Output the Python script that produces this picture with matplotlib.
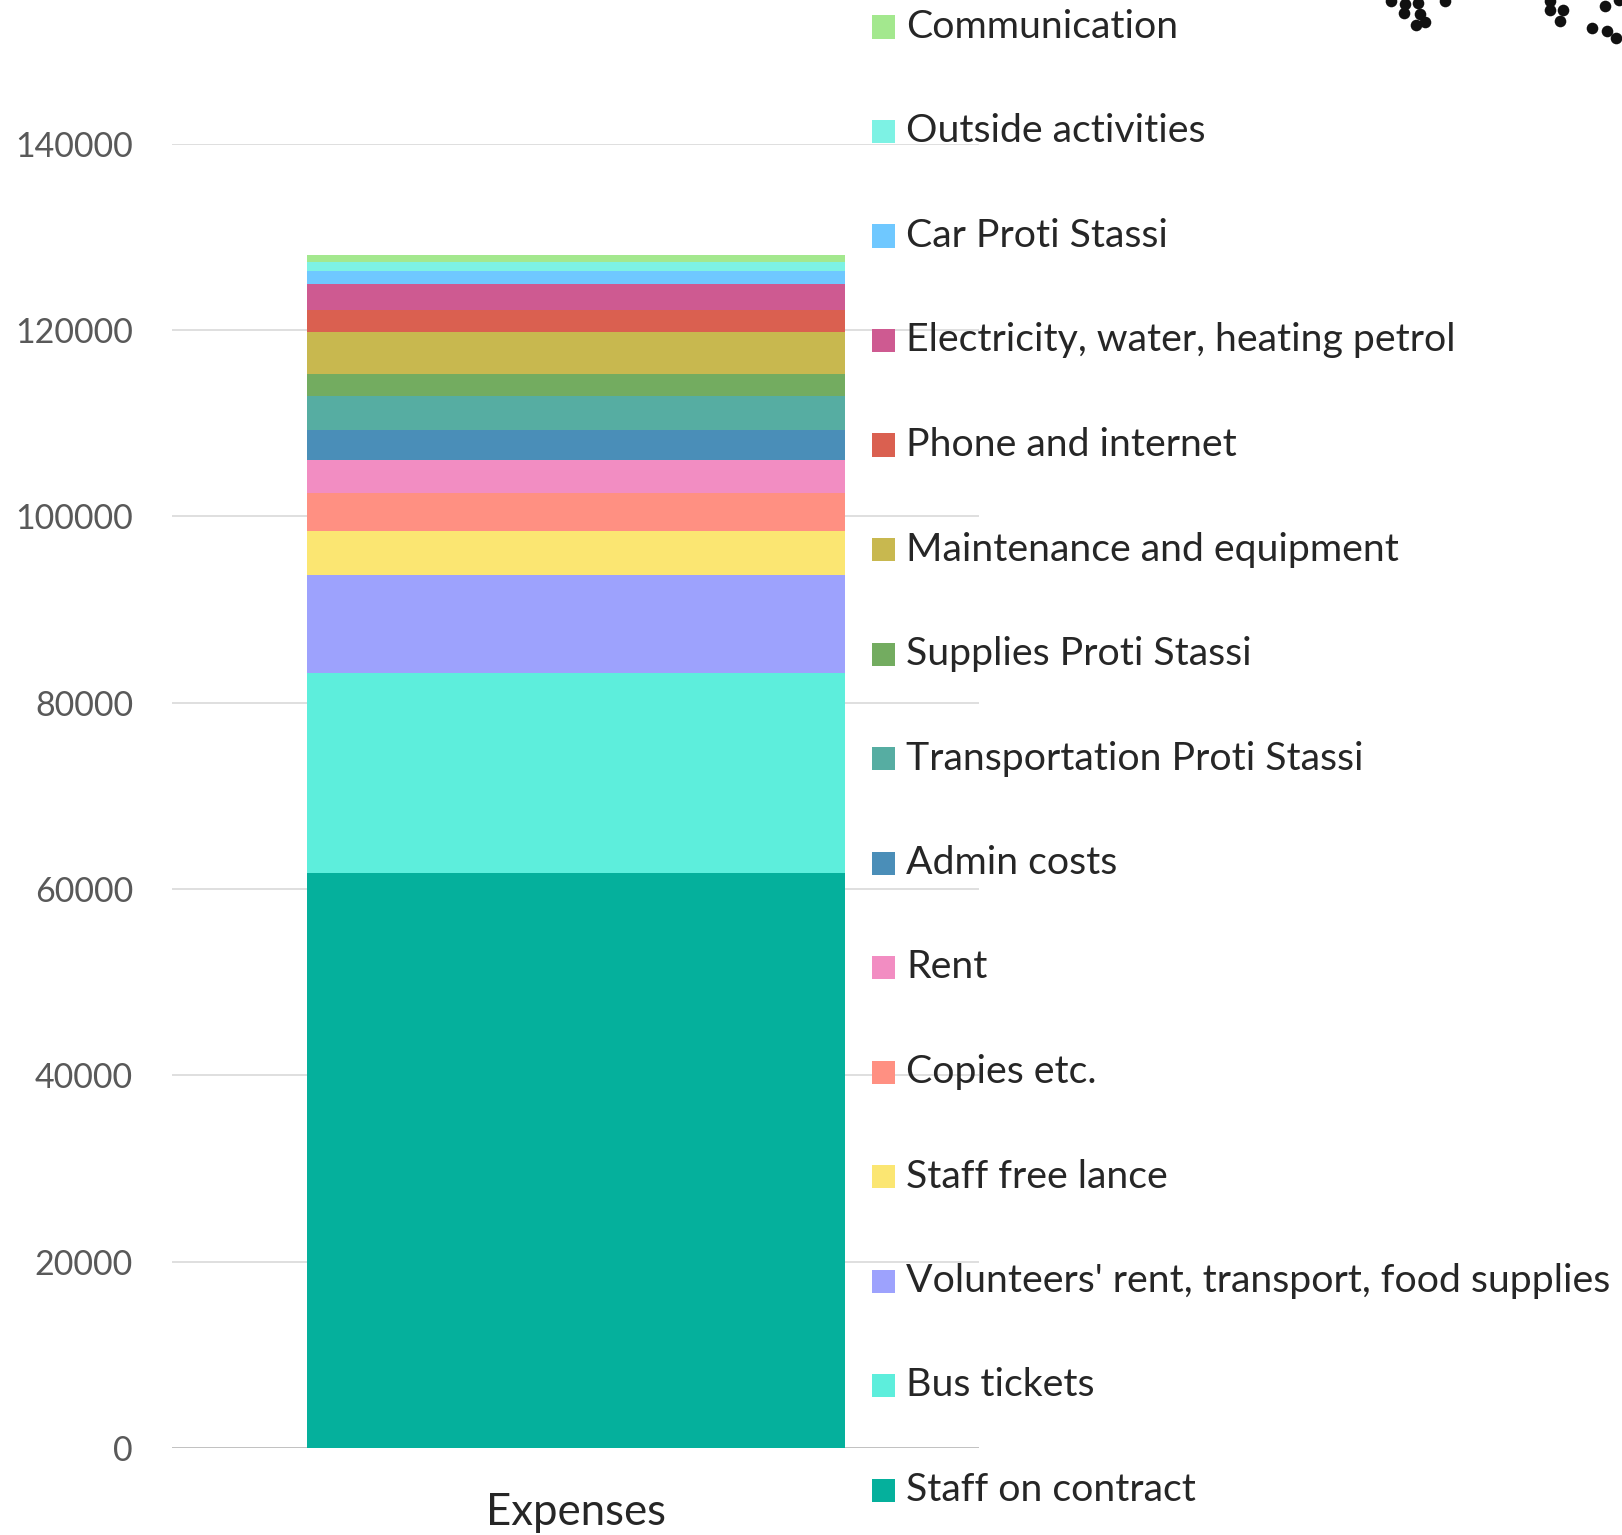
import matplotlib
matplotlib.use("Agg")
import matplotlib.pyplot as plt
from matplotlib.patches import Rectangle

categories = ["Staff on contract", "Bus tickets", "Volunteers' rent, transport, food supplies",
              "Staff free lance", "Copies etc.", "Rent", "Admin costs",
              "Transportation Proti Stassi", "Supplies Proti Stassi", "Maintenance and equipment",
              "Phone and internet", "Electricity, water, heating petrol", "Car Proti Stassi",
              "Outside activities", "Communication"]
values = [61700, 21500, 10500, 4720, 4080, 3540, 3220, 3620, 2390, 4580, 2360, 2720, 1400, 930, 780]
colors = ["#05B09C", "#5DEEDC", "#9DA2FD", "#FBE672", "#FF9082", "#F28DC2", "#4A8EB8",
          "#56ADA2", "#73AC60", "#C8B84F", "#DA6050", "#CE5A91", "#6FC8FF", "#7DF2E4", "#A3E88E"]
x_labels = ["Expenses"]
y_ticks = [0, 20000, 40000, 60000, 80000, 100000, 120000, 140000]

# cropped decorative dots at the top-right corner (pixel positions in the image)
dots_x = [1391, 1405, 1418, 1445, 1404, 1420, 1416, 1425, 1550, 1550, 1563, 1560, 1605, 1619, 1592, 1607, 1616]
dots_y = [1, 4, 3, 1, 13, 14, 25, 22, 1, 10, 10, 21, 6, 0, 28, 31, 38]

plt.rcParams['font.family'] = ['Lato', 'DejaVu Sans']

W, H = 1622, 1535
fig = plt.figure(figsize=(W / 100, H / 100), dpi=100)

x0, x1 = 172, 979
y_zero, y_top = 1448, 143.8
ax = fig.add_axes([x0 / W, 1 - y_zero / H, (x1 - x0) / W, (y_zero - y_top) / H])
ax.set_xlim(-0.75, 0.75)
ax.set_ylim(0, 140000)

bottom = 0
for v, c in zip(values, colors):
    ax.bar(0, v, bottom=bottom, width=1.0, color=c, zorder=3, linewidth=0)
    bottom += v

ax.set_yticks(y_ticks)
ax.set_yticklabels([str(t) for t in y_ticks])
ax.set_xticks([0])
ax.set_xticklabels(x_labels)
for s in ax.spines.values():
    s.set_visible(False)
ax.grid(axis='y', color='#d9d9d9', linewidth=1.2, zorder=0)
ax.axhline(0, color='#bfbfbf', linewidth=2, zorder=2)
ax.tick_params(axis='y', length=0, pad=28, labelcolor='#595959', labelsize=24.5)
ax.tick_params(axis='x', length=0, pad=32, labelcolor='#262626', labelsize=31.5)

# legend (manual, top = last series)
n = len(categories)
y_first, y_last = 27, 1490
step = (y_last - y_first) / (n - 1)
sq = 23
for i in range(n):
    idx = n - 1 - i
    yc = y_first + i * step
    fig.patches.append(Rectangle((872 / W, 1 - (yc + sq / 2) / H), sq / W, sq / H,
                                 transform=fig.transFigure, facecolor=colors[idx],
                                 edgecolor='none', figure=fig))
    fig.text(906 / W, 1 - yc / H, categories[idx], fontsize=28.3, color='#262626',
             va='center', ha='left')

# overlay for the decorative dots
ov = fig.add_axes([0, 0, 1, 1], facecolor='none')
ov.set_xlim(0, W)
ov.set_ylim(H, 0)
ov.axis('off')
ov.scatter(dots_x, dots_y, s=70, color='#111111', linewidths=0)

fig.savefig("out.png", dpi=100, facecolor='white')
